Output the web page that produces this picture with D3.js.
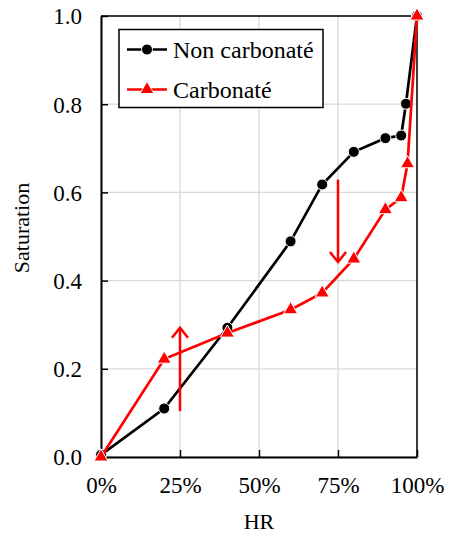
<!DOCTYPE html>
<html>
<head>
<meta charset="utf-8">
<script src="https://cdn.jsdelivr.net/npm/d3@7"></script>
<style>
  body { margin: 0; background: #fff; font-family: 'Liberation Serif', serif; }
</style>
</head>
<body>
<div id="chart"></div>
<script>
// relative humidity (fraction) and saturation
const hrNon = [0, 0.20, 0.40, 0.60, 0.70, 0.80, 0.90, 0.95, 0.965, 1.0];
const satNon = [0.005, 0.11, 0.293, 0.489, 0.618, 0.692, 0.723, 0.729, 0.801, 1.0];
const hrCarb = [0, 0.20, 0.40, 0.60, 0.70, 0.80, 0.90, 0.95, 0.97, 1.0];
const satCarb = [0, 0.222, 0.281, 0.334, 0.372, 0.449, 0.561, 0.588, 0.665, 1.0];
const xTicks = [0, 0.25, 0.5, 0.75, 1.0];
const yTicks = [0, 0.2, 0.4, 0.6, 0.8, 1.0];
// arrows: [hr, from, to]
const arrowHr = [0.25, 0.75];
const arrowFrom = [0.104, 0.629];
const arrowTo = [0.293, 0.442];
const seriesNames = ['Non carbonaté', 'Carbonaté'];

const FONT = 'Liberation Serif';
const width = 450, height = 536;
const margin = {top: 16, right: 33, bottom: 79, left: 101};
const w = width - margin.left - margin.right;
const h = height - margin.top - margin.bottom;

const svg = d3.select('#chart').append('svg').attr('width', width).attr('height', height);
const g = svg.append('g').attr('transform', 'translate(' + margin.left + ',' + margin.top + ')');

const x = d3.scaleLinear().domain([0, 1]).range([0, w]);
const y = d3.scaleLinear().domain([0, 1]).range([h, 0]);

// grid
g.append('g').selectAll('line').data(xTicks).enter().append('line')
  .attr('x1', d => x(d)).attr('x2', d => x(d)).attr('y1', 0).attr('y2', h)
  .attr('stroke', '#d9d9d9').attr('stroke-width', 1.3);
g.append('g').selectAll('line').data(yTicks).enter().append('line')
  .attr('y1', d => y(d)).attr('y2', d => y(d)).attr('x1', 0).attr('x2', w)
  .attr('stroke', '#d9d9d9').attr('stroke-width', 1.3);

// frame top / right
g.append('path').attr('d', 'M0,0H' + w + 'V' + h).attr('fill', 'none').attr('stroke', '#000').attr('stroke-width', 1.5);

const xAxis = d3.axisBottom(x).tickValues(xTicks).tickFormat(d3.format('.0%')).tickSizeInner(-7).tickSizeOuter(0).tickPadding(16);
const yAxis = d3.axisLeft(y).tickValues(yTicks).tickFormat(d3.format('.1f')).tickSizeInner(-7).tickSizeOuter(0).tickPadding(19);

const gx = g.append('g').attr('transform', 'translate(0,' + h + ')').call(xAxis);
const gy = g.append('g').call(yAxis);
[gx, gy].forEach(a => {
  a.attr('font-family', FONT).attr('font-size', 23);
  a.select('.domain').attr('stroke', '#000').attr('stroke-width', 2);
  a.selectAll('.tick line').attr('stroke', '#000').attr('stroke-width', 1.5);
  a.selectAll('.tick text').attr('fill', '#000');
});
gx.selectAll('.tick text').attr('dy', '0.85em');
gy.selectAll('.tick text').attr('dy', '0.34em');

// axis titles
svg.append('text').attr('x', margin.left + w / 2).attr('y', 529).attr('text-anchor', 'middle')
  .attr('font-family', FONT).attr('font-size', 22).text('HR');
svg.append('text').attr('transform', 'translate(29,228) rotate(-90)').attr('text-anchor', 'middle')
  .attr('font-family', FONT).attr('font-size', 22).text('Saturation');

const line = d3.line().x(d => x(d[0])).y(d => y(d[1]));
const nonData = hrNon.map((v, i) => [v, satNon[i]]);
const carbData = hrCarb.map((v, i) => [v, satCarb[i]]);

// black series
g.append('path').attr('d', line(nonData)).attr('fill', 'none').attr('stroke', '#000').attr('stroke-width', 2.7);
g.append('g').selectAll('circle').data(nonData).enter().append('circle')
  .attr('cx', d => x(d[0])).attr('cy', d => y(d[1])).attr('r', 5.5)
  .attr('fill', '#000').attr('stroke', '#fff').attr('stroke-width', 1);

// red series
const tri = d3.symbol().type(d3.symbolTriangle).size(85);
g.append('path').attr('d', line(carbData)).attr('fill', 'none').attr('stroke', '#ff0000').attr('stroke-width', 2.7);
g.append('g').selectAll('path').data(carbData).enter().append('path')
  .attr('d', tri).attr('transform', d => 'translate(' + x(d[0]) + ',' + y(d[1]) + ')')
  .attr('fill', '#ff0000').attr('stroke', '#fff').attr('stroke-width', 1);

// arrows
arrowHr.forEach((hr, i) => {
  const ax = x(hr), y0 = y(arrowFrom[i]), y1 = y(arrowTo[i]);
  const dir = y1 < y0 ? 1 : -1;
  g.append('line').attr('x1', ax).attr('x2', ax).attr('y1', y0).attr('y2', y1)
    .attr('stroke', '#ff0000').attr('stroke-width', 2.5);
  g.append('path').attr('d', 'M' + (ax - 8) + ',' + (y1 + dir * 10) + 'L' + ax + ',' + y1 + 'L' + (ax + 8) + ',' + (y1 + dir * 10))
    .attr('fill', 'none').attr('stroke', '#ff0000').attr('stroke-width', 2.5);
});

// legend
const leg = svg.append('g');
leg.append('rect').attr('x', 119).attr('y', 29.5).attr('width', 204).attr('height', 78)
  .attr('fill', '#fff').attr('stroke', '#000').attr('stroke-width', 1.5);
const legColors = ['#000', '#ff0000'];
seriesNames.forEach((name, i) => {
  const ly = 49.5 + i * 40;
  leg.append('line').attr('x1', 127).attr('x2', 167).attr('y1', ly).attr('y2', ly)
    .attr('stroke', legColors[i]).attr('stroke-width', 2.7);
  if (i === 0) {
    leg.append('circle').attr('cx', 147).attr('cy', ly).attr('r', 5.5).attr('fill', '#000').attr('stroke', '#fff');
  } else {
    leg.append('path').attr('d', tri).attr('transform', 'translate(147,' + ly + ')').attr('fill', '#ff0000').attr('stroke', '#fff');
  }
  leg.append('text').attr('x', 173).attr('y', ly + 8.5).attr('font-family', FONT).attr('font-size', 24).text(name);
});
</script>
</body>
</html>
